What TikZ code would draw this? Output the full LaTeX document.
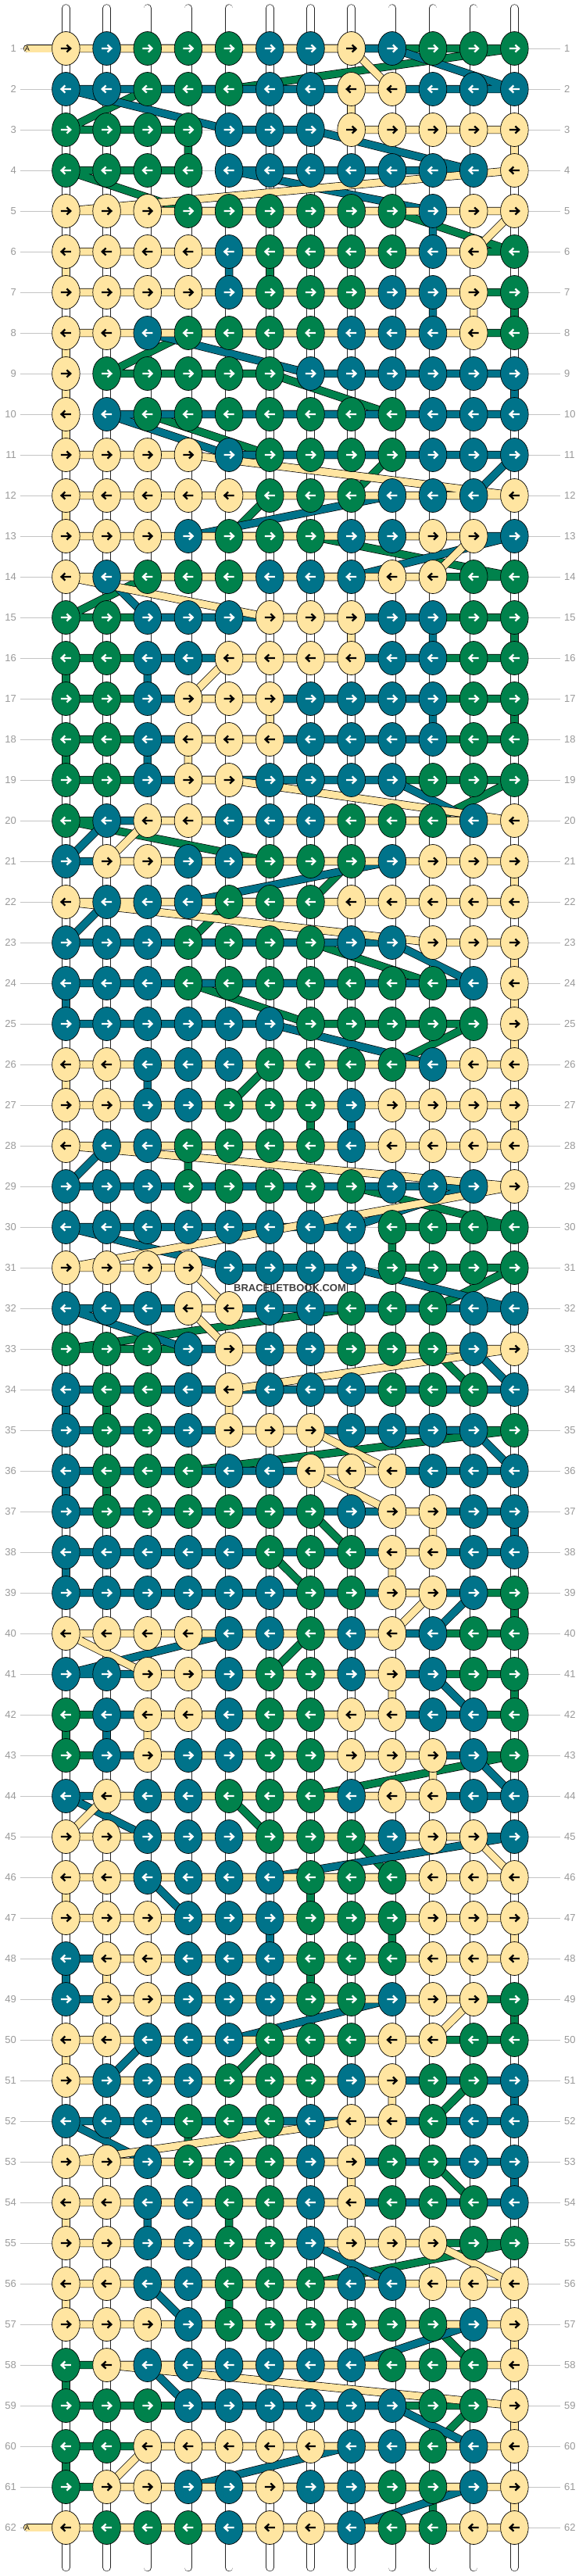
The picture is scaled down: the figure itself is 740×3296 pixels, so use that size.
\documentclass[tikz,border=0pt]{standalone}
\usepackage{fontspec}
\setmainfont{Liberation Sans}
\usetikzlibrary{shapes.geometric,backgrounds}

\definecolor{knotY}{HTML}{FFE5A1}
\definecolor{knotT}{HTML}{00738A}
\definecolor{knotG}{HTML}{00824C}
\colorlet{arrowY}{black}
\colorlet{arrowT}{white}
\colorlet{arrowG}{white}
\definecolor{guidegray}{HTML}{C4C4C4}
\definecolor{labelgray}{HTML}{9A9A9A}

% one row of knot colours, read letter by letter
\newcount\kc
\def\readknots#1{%
  \ifx#1.\else
    \global\advance\kc by 1\relax
    \expandafter\xdef\csname kn-\rw-\the\kc\endcsname{#1}%
    \expandafter\readknots
  \fi}

\def\knotrows{%
YTGGGTTYTGGG,TTGGGTTYYTTT,GGGGTTTYYYYY,GGGGTTTTTTTY,YYYGGGGGGTYY,%
YYYYTGGGGTYG,YYYYTGGGTTYG,YYTGGGGTTTYG,YGGGGGTTTTTT,YTGGGGGGGTTT,%
YYYYTGGGGTTT,YYYYYGGGTTTY,YYYTGGGTTYYT,YTGGGTTTYYGG,GGTTTYYYTTGG,%
GGTTYYYYTTGG,GGTYYYTTTTGG,GGTYYYTTTTGG,GGTYYTTTTGGG,GTYYTTTGGGTY,%
TYYTTGGGTYYY,YTTTGGGYYYYY,TTTGGGGTTYYY,TTTGGGGGGGTY,TTTTTTGGGGGY,%
YYTTTGGGGTYY,YYTTGGGTYYYY,YTTGGGGTYYYY,TTTGGGGGTTTY,TTTTTTTTGGGG,%
YYYYTTTTGGGG,TTTYYTTGGGTT,GGGTYTTGGGTY,TGGTYTTTGGGT,TGGTYYYTTTTG,%
TGGGTTYYYTTT,TGGGGGGTYYTT,TTTTTGGGYYTT,TTTTTTGGYYTG,YYYYTTGTYTGG,%
TTYYTGGTYTGG,GTYYTGGYYTTG,GTYTTGGYYYTG,TYTTGGGTYYTT,YYTTTGGGTYYT,%
YYTTTTGGGYYY,YYYTTTGGGYYY,TYYTTTGGGYYY,TYYTTTGGTYYG,YYTTTGGGYYGG,%
YTTTGGGTYGGT,TTTGGGTYYGTT,YYTGGGTYGGTT,YYTTGGTYGGGT,YYTTGGTYYYGG,%
YYTTGGGTTYYY,YYYTGGGGGGTY,GYTTTTTTGGGY,GGGTTTTTTGGY,GGYYYYYTTGTY,%
GYYTTYTTGGTY,YGGGTYYTGGYY}

\tikzset{
  knot/.style={ellipse, draw=black, line width=0.7pt, minimum width=35.6pt,
    minimum height=43pt, inner sep=0pt},
  knotarrow/.style={line width=2.3pt, line join=miter},
  strand/.style={draw=black, line width=0.7pt, double distance=9pt, line join=round},
  pipe/.style={draw=black!85, line width=0.7pt, double=white, double distance=9pt,
    line cap=round},
  guide/.style={draw=guidegray, line width=0.8pt},
  rowlabel/.style={text=labelgray, font=\fontsize{13}{13}\selectfont,
    inner xsep=5pt, inner ysep=0pt},
  pilltext/.style={font=\fontsize{9}{9}\selectfont, inner sep=0pt},
  watermark/.style={text=black!75, font=\bfseries\fontsize{13}{13}\selectfont, inner sep=0pt}
}

\begin{document}
\begin{tikzpicture}[x=1pt,y=-1pt]
  \useasboundingbox (0,0) rectangle (740,3296);

  % knots, row by row
  \foreach \s [count=\rw] in \knotrows {
    \global\kc=0
    \expandafter\readknots\s.
    \pgfmathsetmacro\ky{62+(\rw-1)*52}
    \ifodd\rw\relax\def\dir{1}\else\def\dir{-1}\fi
    \foreach \cl in {1,...,12} {
      \edef\kcol{\csname kn-\rw-\cl\endcsname}
      \pgfmathsetmacro\kx{84.4+(\cl-1)*52.18}
      \node[knot, fill=knot\kcol] (k-\rw-\cl) at (\kx,\ky) {};
      \draw[knotarrow, draw=arrow\kcol] (\kx-6.5*\dir,\ky) -- (\kx+5.5*\dir,\ky)
        (\kx+1*\dir,\ky-4.6) -- (\kx+5.8*\dir,\ky) -- (\kx+1*\dir,\ky+4.6);
    }
  }

  % row numbers
  \foreach \rw in {1,...,62} {
    \pgfmathsetmacro\ky{62+(\rw-1)*52}
    \node[rowlabel, anchor=east] (l-\rw) at (26,\ky) {\rw};
    \node[rowlabel, anchor=west] (r-\rw) at (717,\ky) {\rw};
  }

  % string ends and base strings
  \node[pilltext] (startA) at (35,62) {A};
  \node[pilltext] (endA) at (35,3234) {A};
  \foreach \cl in {1,...,12} {
    \pgfmathsetmacro\kx{84.4+(\cl-1)*52.18}
    \coordinate (top-\cl) at (\kx,10.5);
    \coordinate (bot-\cl) at (\kx,3285);
  }

  % each colour runs from knot to knot in tying order
  \foreach \rw in {1,...,62} {
    \ifodd\rw\relax\def\clist{1,...,12}\else\def\clist{12,11,...,1}\fi
    \foreach \cl in \clist {
      \edef\kcol{\csname kn-\rw-\cl\endcsname}
      \ifcsname seg\kcol\endcsname
        \expandafter\xdef\csname seg\kcol\endcsname{\csname seg\kcol\endcsname--(k-\rw-\cl.center)}
      \else
        \expandafter\xdef\csname seg\kcol\endcsname{(k-\rw-\cl.center)}
      \fi
    }
  }

  \node[watermark] (wm) at (371,1648) {BRACELETBOOK.COM};

  \begin{scope}[on background layer]
    \fill[white] (0,0) rectangle (740,3296);
    \foreach \rw in {1,...,62}
      \draw[guide] (l-\rw.east) -- (r-\rw.west);
    \foreach \cl in {1,...,12}
      \draw[pipe] (top-\cl) -- (bot-\cl);
    \draw[strand, double=knotY, line cap=round] (startA.center) -- (k-1-1.center);
    \draw[strand, double=knotY, line cap=round] (endA.center) -- (k-62-1.center);
    \edef\strandpaths{%
      \noexpand\draw[strand, double=knotG] \segG;
      \noexpand\draw[strand, double=knotT] \segT;
      \noexpand\draw[strand, double=knotY] \segY;}
    \strandpaths
  \end{scope}
\end{tikzpicture}
\end{document}
